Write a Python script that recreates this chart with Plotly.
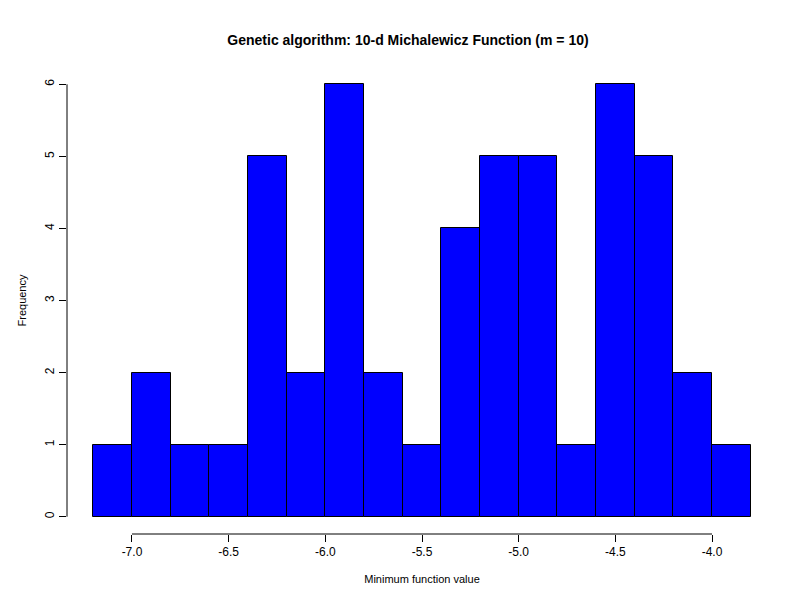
import plotly.graph_objects as go

# histogram bins (left edges) and counts
bin_width = 0.2
bin_starts = [-7.2, -7.0, -6.8, -6.6, -6.4, -6.2, -6.0, -5.8, -5.6,
              -5.4, -5.2, -5.0, -4.8, -4.6, -4.4, -4.2, -4.0]
counts = [1, 2, 1, 1, 5, 2, 6, 2, 1, 4, 5, 5, 1, 6, 5, 2, 1]

x_ticks = [-7.0, -6.5, -6.0, -5.5, -5.0, -4.5, -4.0]
x_tick_labels = ['-7.0', '-6.5', '-6.0', '-5.5', '-5.0', '-4.5', '-4.0']
y_ticks = [0, 1, 2, 3, 4, 5, 6]

centers = [s + bin_width / 2 for s in bin_starts]

fig = go.Figure(go.Bar(
    x=centers, y=counts, width=[bin_width] * len(counts),
    marker=dict(color='blue', line=dict(color='black', width=1)),
))

font = dict(family='Liberation Sans, Arial, sans-serif', size=12, color='black')

fig.update_layout(
    width=800, height=600,
    margin=dict(l=59, r=31, t=59, b=74, autoexpand=False),
    plot_bgcolor='white', paper_bgcolor='white',
    font=font, showlegend=False, bargap=0,
    title=dict(text='<b>Genetic algorithm: 10-d Michalewicz Function (m = 10)</b>',
               x=0.5, xanchor='center', y=0.955, font=dict(size=14)),
)

fig.update_xaxes(
    range=[-7.336, -3.664], tickvals=x_ticks, ticktext=x_tick_labels,
    ticks='outside', ticklen=7, tickcolor='black', showgrid=False,
    zeroline=False, showline=False, automargin=False,
    title=dict(text='Minimum function value', standoff=16, font=dict(size=11)),
)
fig.update_yaxes(
    range=[-0.24, 6.24], tickvals=y_ticks, tickangle=-90,
    ticks='outside', ticklen=7, tickcolor='black', showgrid=False,
    zeroline=False, showline=False, automargin=False,
    title=dict(text='Frequency', standoff=14, font=dict(size=11)),
)

# R-style axis lines that span only the tick range
fig.add_shape(type='line', xref='x', yref='paper', x0=x_ticks[0], x1=x_ticks[-1],
              y0=0, y1=0, line=dict(color='black', width=1))
fig.add_shape(type='line', xref='paper', yref='y', x0=0, x1=0,
              y0=y_ticks[0], y1=y_ticks[-1], line=dict(color='black', width=1))

fig.write_html("out.html")
